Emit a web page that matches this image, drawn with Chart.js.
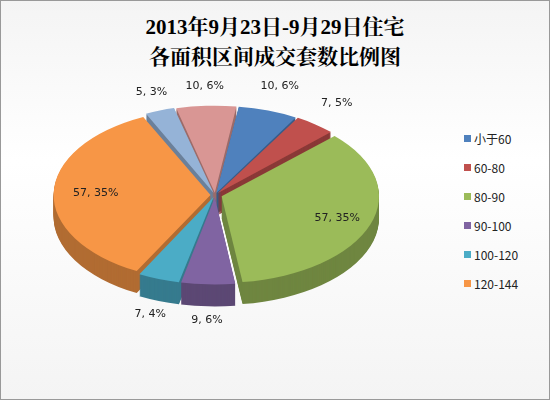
<!DOCTYPE html>
<html><head><meta charset="utf-8">
<script src="https://cdn.jsdelivr.net/npm/chart.js@4"></script>
<style>
body{margin:0;width:550px;height:400px;overflow:hidden;font-family:"Noto Sans CJK SC",sans-serif}
#wrap{position:absolute;left:0;top:0;width:548px;height:398px;border:1px solid #999;background:linear-gradient(#f4f4f4,#ffffff 40%,#f4f4f4)}
#title{position:absolute;top:12px;left:0;width:550px;text-align:center;font:bold 21px "Liberation Serif","Noto Serif CJK SC","Noto Sans CJK SC";line-height:30px;color:#000}
#legend{position:absolute;left:464px;top:124px;font:12px "Noto Sans CJK SC","DejaVu Sans";color:#222}
#legend div{height:29px;display:flex;align-items:center}
#legend span{display:inline-block;width:7px;height:7px;margin-right:3px}
canvas{position:absolute;left:0;top:0}
</style></head><body>
<div id="wrap"></div>
<div id="title">2013年9月23日-9月29日住宅<br>各面积区间成交套数比例图</div>
<div id="legend"></div>
<div style="position:absolute;left:0;top:0;width:550px;height:400px"><canvas id="c"></canvas></div>
<script>
const categories=["小于60","60-80","80-90","90-100","100-120","120-144","",""];
const counts=[10,7,57,9,7,57,5,10];
const percents=[6,5,35,6,4,35,3,6];
const colors=["#4F81BD","#C0504D","#9BBB59","#8064A2","#4BACC6","#F79646","#95B3D7","#D99694"];
const lg=document.getElementById('legend');
categories.forEach((c,i)=>{if(c)lg.innerHTML+=`<div><span style="background:${colors[i]}"></span>${c}</div>`;});
const SY=0.55, DEPTH=22;
const squash={id:'squash',
 beforeDatasetsDraw(ch){const a=ch.getDatasetMeta(0).data[0];const ctx=ch.ctx;ctx.save();ctx.translate(a.x,a.y);ctx.scale(1,SY);ctx.translate(-a.x,-a.y);
   const d=ch.getDatasetMeta(0).data;
   for(let k=DEPTH;k>0;k--){ctx.save();ctx.translate(0,k/SY);d.forEach((el,i)=>{const save=el.options.backgroundColor;el.options.backgroundColor=shade(colors[i]);el.draw(ctx);el.options.backgroundColor=save;});ctx.restore();}
 },
 afterDatasetsDraw(ch){const ctx=ch.ctx;ctx.restore();
   const d=ch.getDatasetMeta(0).data;ctx.font='11px "DejaVu Sans"';ctx.fillStyle='#222';ctx.textAlign='center';ctx.textBaseline='middle';
   d.forEach((el,i)=>{const m=(el.startAngle+el.endAngle)/2;const big=counts[i]>40;const r=big?el.outerRadius*0.65:el.outerRadius*1.1+(i==0||i==1?10:0);
     const off=el.options.offset;const x=el.x+Math.cos(m)*(r+off);const y=el.y+Math.sin(m)*(r+off)*SY+(big?0:(Math.sin(m)>0?DEPTH:-6));
     ctx.fillText(counts[i]+', '+percents[i]+'%',x,y);});
 }};
function shade(h){const n=parseInt(h.slice(1),16);const f=0.72;return `rgb(${(n>>16)*f|0},${((n>>8)&255)*f|0},${(n&255)*f|0})`;}
new Chart(document.getElementById('c'),{type:'pie',
 data:{labels:categories,datasets:[{data:counts,backgroundColor:colors,borderWidth:0,offset:[16,16,28,16,16,18,16,16]}]},
 options:{responsive:true,maintainAspectRatio:false,animation:false,rotation:8,
  layout:{padding:{left:40,right:160,top:25,bottom:35}},
  plugins:{legend:{display:false},tooltip:{enabled:false}}},
 plugins:[squash]});
</script></body></html>
